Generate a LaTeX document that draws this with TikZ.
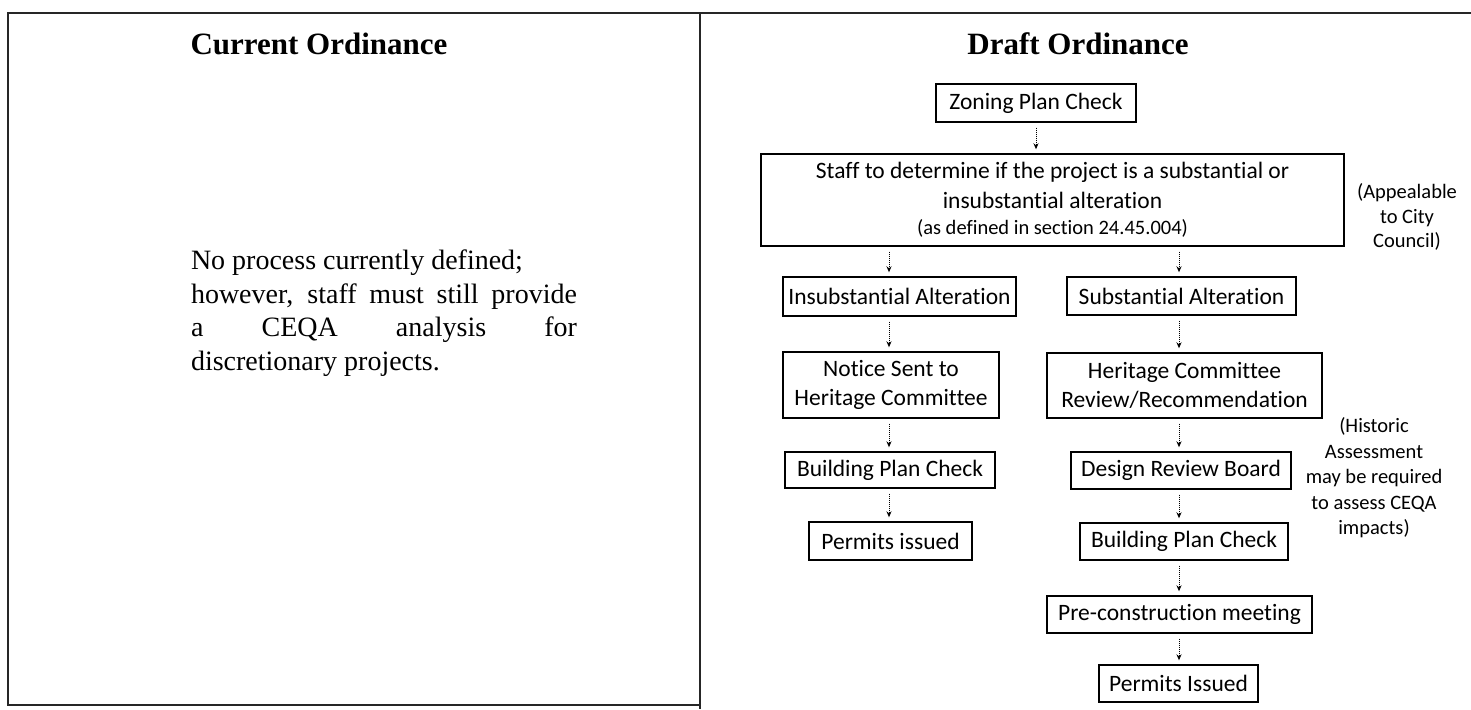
\documentclass[tikz,border=0pt]{standalone}
\usepackage{fontspec}
\setmainfont{Liberation Serif}
\newfontfamily\boxfont{Carlito}[Ligatures=NoCommon]
\usepackage{xcolor}
\usetikzlibrary{arrows.meta}
\tikzset{
    RB/.style ={rectangle, draw=black, line width=1.4pt, inner sep=0pt, align=center,
                font=\boxfont\fontsize{23.5}{29.5}\selectfont},
    NT/.style ={align=center, inner sep=0pt, font=\boxfont\fontsize{20.5}{24.5}\selectfont},
    TT/.style ={inner sep=0pt, font=\bfseries\fontsize{31}{36}\selectfont},
    FR/.style ={line width=2.6pt, draw=black!85}
}
\tikzset{
    FL/.style ={
    -{Stealth[length=6pt,width=5pt]},
    densely dotted,
    line width=1pt,
    shorten <=5pt,
    shorten >=4pt
    }
}

\begin{document}
\begin{tikzpicture}[x=1pt,y=-1pt]
        \useasboundingbox (0,0) rectangle (1471,709);
        % frame
        \draw[FR] (1471,13) -- (8,13) -- (8,705) -- (700,705);
        \draw[FR] (700,13) -- (700,709);
        % titles
        \node[TT] (cur) at (319,44) {Current Ordinance};
        \node[TT] (draft) at (1078,44) {Draft Ordinance};
        \node[text width=386, align=justify, inner sep=0pt,
              font=\fontsize{28}{33.5}\selectfont] (para) at (384,313)
              {No process currently defined;\\ however, staff must still provide\linebreak
               a CEQA analysis for\linebreak discretionary projects.};
        % flow boxes
        \node[RB, minimum width=200, minimum height=38] (zoning) at (1036,103) {Zoning Plan Check};
        \node[RB, minimum width=583, minimum height=92] (staff) at (1052.5,200)
              {Staff to determine if the project is a substantial or\\insubstantial alteration\\[-3pt]
               {\fontsize{20.5}{24}\selectfont (as defined in section 24.45.004)}};
        \node[RB, minimum width=233, minimum height=39] (insub) at (899.5,296.5) {Insubstantial Alteration};
        \node[RB, minimum width=229, minimum height=38] (subst) at (1181.5,296) {Substantial Alteration};
        \node[RB, minimum width=216, minimum height=66] (notice) at (891,385) {Notice Sent to\\Heritage Committee};
        \node[RB, minimum width=275, minimum height=65] (heritage) at (1184.5,385.5) {Heritage Committee\\Review/Recommendation};
        \node[RB, minimum width=210, minimum height=36] (bpcL) at (890,470) {Building Plan Check};
        \node[RB, minimum width=220, minimum height=37] (design) at (1181,470.5) {Design Review Board};
        \node[RB, minimum width=163, minimum height=38] (permL) at (890.5,541) {Permits issued};
        \node[RB, minimum width=208, minimum height=37] (bpcR) at (1184,541.5) {Building Plan Check};
        \node[RB, minimum width=265, minimum height=37] (precon) at (1179.5,614.5) {Pre-construction meeting};
        \node[RB, minimum width=159, minimum height=37] (permR) at (1178.5,683.5) {Permits Issued};
        % side notes
        \node[NT] (appeal) at (1407,217) {(Appealable\\to City\\Council)};
        \node[NT, font=\boxfont\fontsize{20.5}{25.5}\selectfont] (historic) at (1374,478)
              {(Historic\\Assessment\\may be required\\to assess CEQA\\impacts)};
        % arrows
        \coordinate (colL) at (889,0);
        \coordinate (colR) at (1179,0);
        \draw[FL] (zoning.south) -- (zoning.south |- staff.north);
        \draw[FL] (staff.south -| colL) -- (insub.north -| colL);
        \draw[FL] (insub.south -| colL) -- (notice.north -| colL);
        \draw[FL] (notice.south -| colL) -- (bpcL.north -| colL);
        \draw[FL] (bpcL.south -| colL) -- (permL.north -| colL);
        \draw[FL] (staff.south -| colR) -- (subst.north -| colR);
        \draw[FL] (subst.south -| colR) -- (heritage.north -| colR);
        \draw[FL] (heritage.south -| colR) -- (design.north -| colR);
        \draw[FL] (design.south -| colR) -- (bpcR.north -| colR);
        \draw[FL] (bpcR.south -| colR) -- (precon.north -| colR);
        \draw[FL] (precon.south -| colR) -- (permR.north -| colR);
\end{tikzpicture}
\end{document}
